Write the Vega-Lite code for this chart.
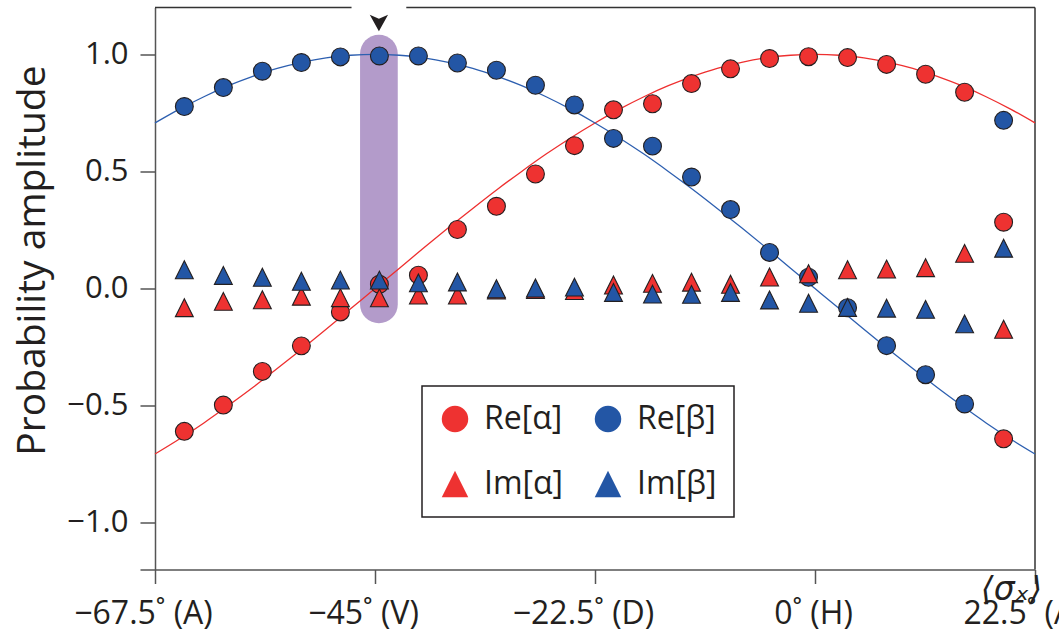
{
  "$schema": "https://vega.github.io/schema/vega-lite/v6.json",
  "width": 880,
  "height": 562,
  "autosize": {"type": "none"},
  "padding": {"left": 155, "top": 7.5, "right": 24, "bottom": 65.5},
  "background": "white",
  "config": {
    "view": {"stroke": null},
    "font": "Open Sans",
    "legend": {"strokeWidth": 1.5}
  },
  "datasets": {
    "points": [
      {"angle": -64.5, "v": -0.61, "series": "Re[α]"},
      {"angle": -60.51, "v": -0.498, "series": "Re[α]"},
      {"angle": -56.52, "v": -0.354, "series": "Re[α]"},
      {"angle": -52.53, "v": -0.245, "series": "Re[α]"},
      {"angle": -48.54, "v": -0.1, "series": "Re[α]"},
      {"angle": -44.55, "v": 0.018, "series": "Re[α]"},
      {"angle": -40.56, "v": 0.057, "series": "Re[α]"},
      {"angle": -36.57, "v": 0.252, "series": "Re[α]"},
      {"angle": -32.58, "v": 0.351, "series": "Re[α]"},
      {"angle": -28.59, "v": 0.489, "series": "Re[α]"},
      {"angle": -24.6, "v": 0.61, "series": "Re[α]"},
      {"angle": -20.61, "v": 0.763, "series": "Re[α]"},
      {"angle": -16.62, "v": 0.789, "series": "Re[α]"},
      {"angle": -12.63, "v": 0.875, "series": "Re[α]"},
      {"angle": -8.64, "v": 0.938, "series": "Re[α]"},
      {"angle": -4.65, "v": 0.982, "series": "Re[α]"},
      {"angle": -0.66, "v": 0.99, "series": "Re[α]"},
      {"angle": 3.33, "v": 0.986, "series": "Re[α]"},
      {"angle": 7.32, "v": 0.957, "series": "Re[α]"},
      {"angle": 11.31, "v": 0.915, "series": "Re[α]"},
      {"angle": 15.3, "v": 0.838, "series": "Re[α]"},
      {"angle": 19.29, "v": 0.283, "series": "Re[α]"},
      {"angle": 19.29, "v": -0.642, "series": "Re[α]"},
      {"angle": -64.5, "v": 0.777, "series": "Re[β]"},
      {"angle": -60.51, "v": 0.858, "series": "Re[β]"},
      {"angle": -56.52, "v": 0.928, "series": "Re[β]"},
      {"angle": -52.53, "v": 0.965, "series": "Re[β]"},
      {"angle": -48.54, "v": 0.989, "series": "Re[β]"},
      {"angle": -44.55, "v": 0.993, "series": "Re[β]"},
      {"angle": -40.56, "v": 0.993, "series": "Re[β]"},
      {"angle": -36.57, "v": 0.963, "series": "Re[β]"},
      {"angle": -32.58, "v": 0.932, "series": "Re[β]"},
      {"angle": -28.59, "v": 0.868, "series": "Re[β]"},
      {"angle": -24.6, "v": 0.784, "series": "Re[β]"},
      {"angle": -20.61, "v": 0.641, "series": "Re[β]"},
      {"angle": -16.62, "v": 0.608, "series": "Re[β]"},
      {"angle": -12.63, "v": 0.476, "series": "Re[β]"},
      {"angle": -8.64, "v": 0.337, "series": "Re[β]"},
      {"angle": -4.65, "v": 0.154, "series": "Re[β]"},
      {"angle": -0.66, "v": 0.048, "series": "Re[β]"},
      {"angle": 3.33, "v": -0.082, "series": "Re[β]"},
      {"angle": 7.32, "v": -0.244, "series": "Re[β]"},
      {"angle": 11.31, "v": -0.368, "series": "Re[β]"},
      {"angle": 15.3, "v": -0.493, "series": "Re[β]"},
      {"angle": 19.29, "v": 0.718, "series": "Re[β]"},
      {"angle": -64.5, "v": -0.082, "series": "Im[α]"},
      {"angle": -60.51, "v": -0.055, "series": "Im[α]"},
      {"angle": -56.52, "v": -0.048, "series": "Im[α]"},
      {"angle": -52.53, "v": -0.033, "series": "Im[α]"},
      {"angle": -48.54, "v": -0.039, "series": "Im[α]"},
      {"angle": -44.55, "v": -0.04, "series": "Im[α]"},
      {"angle": -40.56, "v": -0.028, "series": "Im[α]"},
      {"angle": -36.57, "v": -0.028, "series": "Im[α]"},
      {"angle": -32.58, "v": -0.006, "series": "Im[α]"},
      {"angle": -28.59, "v": -0.004, "series": "Im[α]"},
      {"angle": -24.6, "v": -0.009, "series": "Im[α]"},
      {"angle": -20.61, "v": 0.015, "series": "Im[α]"},
      {"angle": -16.62, "v": 0.022, "series": "Im[α]"},
      {"angle": -12.63, "v": 0.027, "series": "Im[α]"},
      {"angle": -8.64, "v": 0.018, "series": "Im[α]"},
      {"angle": -4.65, "v": 0.049, "series": "Im[α]"},
      {"angle": -0.66, "v": 0.063, "series": "Im[α]"},
      {"angle": 3.33, "v": 0.08, "series": "Im[α]"},
      {"angle": 7.32, "v": 0.083, "series": "Im[α]"},
      {"angle": 11.31, "v": 0.089, "series": "Im[α]"},
      {"angle": 15.3, "v": 0.15, "series": "Im[α]"},
      {"angle": 19.29, "v": -0.174, "series": "Im[α]"},
      {"angle": -64.5, "v": 0.08, "series": "Im[β]"},
      {"angle": -60.51, "v": 0.056, "series": "Im[β]"},
      {"angle": -56.52, "v": 0.048, "series": "Im[β]"},
      {"angle": -52.53, "v": 0.031, "series": "Im[β]"},
      {"angle": -48.54, "v": 0.036, "series": "Im[β]"},
      {"angle": -44.55, "v": 0.036, "series": "Im[β]"},
      {"angle": -40.56, "v": 0.024, "series": "Im[β]"},
      {"angle": -36.57, "v": 0.028, "series": "Im[β]"},
      {"angle": -32.58, "v": -0.001, "series": "Im[β]"},
      {"angle": -28.59, "v": 0.002, "series": "Im[β]"},
      {"angle": -24.6, "v": 0.006, "series": "Im[β]"},
      {"angle": -20.61, "v": -0.017, "series": "Im[β]"},
      {"angle": -16.62, "v": -0.024, "series": "Im[β]"},
      {"angle": -12.63, "v": -0.025, "series": "Im[β]"},
      {"angle": -8.64, "v": -0.017, "series": "Im[β]"},
      {"angle": -4.65, "v": -0.049, "series": "Im[β]"},
      {"angle": -0.66, "v": -0.063, "series": "Im[β]"},
      {"angle": 3.33, "v": -0.081, "series": "Im[β]"},
      {"angle": 7.32, "v": -0.084, "series": "Im[β]"},
      {"angle": 11.31, "v": -0.089, "series": "Im[β]"},
      {"angle": 15.3, "v": -0.151, "series": "Im[β]"},
      {"angle": 19.29, "v": 0.172, "series": "Im[β]"}
    ],
    "curves": [
      {"angle": -67.5, "v": -0.707, "curve": "alpha"},
      {"angle": -65, "v": -0.643, "curve": "alpha"},
      {"angle": -62.5, "v": -0.574, "curve": "alpha"},
      {"angle": -60, "v": -0.5, "curve": "alpha"},
      {"angle": -57.5, "v": -0.423, "curve": "alpha"},
      {"angle": -55, "v": -0.342, "curve": "alpha"},
      {"angle": -52.5, "v": -0.259, "curve": "alpha"},
      {"angle": -50, "v": -0.174, "curve": "alpha"},
      {"angle": -47.5, "v": -0.087, "curve": "alpha"},
      {"angle": -45, "v": 0, "curve": "alpha"},
      {"angle": -42.5, "v": 0.087, "curve": "alpha"},
      {"angle": -40, "v": 0.174, "curve": "alpha"},
      {"angle": -37.5, "v": 0.259, "curve": "alpha"},
      {"angle": -35, "v": 0.342, "curve": "alpha"},
      {"angle": -32.5, "v": 0.423, "curve": "alpha"},
      {"angle": -30, "v": 0.5, "curve": "alpha"},
      {"angle": -27.5, "v": 0.574, "curve": "alpha"},
      {"angle": -25, "v": 0.643, "curve": "alpha"},
      {"angle": -22.5, "v": 0.707, "curve": "alpha"},
      {"angle": -20, "v": 0.766, "curve": "alpha"},
      {"angle": -17.5, "v": 0.819, "curve": "alpha"},
      {"angle": -15, "v": 0.866, "curve": "alpha"},
      {"angle": -12.5, "v": 0.906, "curve": "alpha"},
      {"angle": -10, "v": 0.94, "curve": "alpha"},
      {"angle": -7.5, "v": 0.966, "curve": "alpha"},
      {"angle": -5, "v": 0.985, "curve": "alpha"},
      {"angle": -2.5, "v": 0.996, "curve": "alpha"},
      {"angle": 0, "v": 1, "curve": "alpha"},
      {"angle": 2.5, "v": 0.996, "curve": "alpha"},
      {"angle": 5, "v": 0.985, "curve": "alpha"},
      {"angle": 7.5, "v": 0.966, "curve": "alpha"},
      {"angle": 10, "v": 0.94, "curve": "alpha"},
      {"angle": 12.5, "v": 0.906, "curve": "alpha"},
      {"angle": 15, "v": 0.866, "curve": "alpha"},
      {"angle": 17.5, "v": 0.819, "curve": "alpha"},
      {"angle": 20, "v": 0.766, "curve": "alpha"},
      {"angle": 22.5, "v": 0.707, "curve": "alpha"},
      {"angle": -67.5, "v": 0.707, "curve": "beta"},
      {"angle": -65, "v": 0.766, "curve": "beta"},
      {"angle": -62.5, "v": 0.819, "curve": "beta"},
      {"angle": -60, "v": 0.866, "curve": "beta"},
      {"angle": -57.5, "v": 0.906, "curve": "beta"},
      {"angle": -55, "v": 0.94, "curve": "beta"},
      {"angle": -52.5, "v": 0.966, "curve": "beta"},
      {"angle": -50, "v": 0.985, "curve": "beta"},
      {"angle": -47.5, "v": 0.996, "curve": "beta"},
      {"angle": -45, "v": 1, "curve": "beta"},
      {"angle": -42.5, "v": 0.996, "curve": "beta"},
      {"angle": -40, "v": 0.985, "curve": "beta"},
      {"angle": -37.5, "v": 0.966, "curve": "beta"},
      {"angle": -35, "v": 0.94, "curve": "beta"},
      {"angle": -32.5, "v": 0.906, "curve": "beta"},
      {"angle": -30, "v": 0.866, "curve": "beta"},
      {"angle": -27.5, "v": 0.819, "curve": "beta"},
      {"angle": -25, "v": 0.766, "curve": "beta"},
      {"angle": -22.5, "v": 0.707, "curve": "beta"},
      {"angle": -20, "v": 0.643, "curve": "beta"},
      {"angle": -17.5, "v": 0.574, "curve": "beta"},
      {"angle": -15, "v": 0.5, "curve": "beta"},
      {"angle": -12.5, "v": 0.423, "curve": "beta"},
      {"angle": -10, "v": 0.342, "curve": "beta"},
      {"angle": -7.5, "v": 0.259, "curve": "beta"},
      {"angle": -5, "v": 0.174, "curve": "beta"},
      {"angle": -2.5, "v": 0.087, "curve": "beta"},
      {"angle": 0, "v": 0, "curve": "beta"},
      {"angle": 2.5, "v": -0.087, "curve": "beta"},
      {"angle": 5, "v": -0.174, "curve": "beta"},
      {"angle": 7.5, "v": -0.259, "curve": "beta"},
      {"angle": 10, "v": -0.342, "curve": "beta"},
      {"angle": 12.5, "v": -0.423, "curve": "beta"},
      {"angle": 15, "v": -0.5, "curve": "beta"},
      {"angle": 17.5, "v": -0.574, "curve": "beta"},
      {"angle": 20, "v": -0.643, "curve": "beta"},
      {"angle": 22.5, "v": -0.707, "curve": "beta"}
    ],
    "highlight": [{"angle": -44.6, "v": -0.068, "v2": 1.003}],
    "frame": [
      {"angle": -67.5, "angle2": -47.4, "v": 1.2, "v2": 1.2},
      {"angle": -41.8, "angle2": 22.5, "v": 1.2, "v2": 1.2},
      {"angle": 22.5, "angle2": 22.5, "v": -1.2, "v2": 1.2}
    ],
    "marker": [{"angle": -44.6, "v": 1.134}]
  },
  "layer": [
    {
      "data": {"name": "highlight"},
      "mark": {"type": "rule", "strokeWidth": 37.7, "strokeCap": "round", "color": "#b39bca"},
      "encoding": {
        "x": {"field": "angle", "type": "quantitative", "scale": {"domain": [-67.5, 22.5], "nice": false, "zero": false},
          "axis": {
            "title": "⟨σₓ⟩",
            "values": [-67.5, -45, -22.5, 0, 22.5],
            "labelExpr": "datum.value == -67.5 ? '−67.5˚ (A)' : datum.value == -45 ? '−45˚ (V)' : datum.value == -22.5 ? '−22.5˚ (D)' : datum.value == 0 ? '0˚ (H)' : '22.5˚ (A)'",
            "labelFlush": false,
            "labelOverlap": false,
            "labelFontSize": 32,
            "labelColor": "#231f20",
            "labelPadding": 15,
            "labelOffset": {"condition": {"test": "datum.value == 0", "value": -2}, "value": -12},
            "tickSize": 14,
            "tickWidth": 1.5,
            "tickColor": "#555555",
            "domainColor": "#555555",
            "domainWidth": 1.5,
            "grid": false,
            "titleFont": "DejaVu Sans",
            "titleFontSize": 33,
            "titleFontStyle": "italic",
            "titleFontWeight": "normal",
            "titleColor": "#231f20",
            "titleX": 856,
            "titleY": 30,
            "titleAlign": "center",
            "titleBaseline": "alphabetic",
            "titleAnchor": null
          }
        },
        "y": {"field": "v", "type": "quantitative", "scale": {"domain": [-1.2, 1.2], "nice": false, "zero": false},
          "axis": {
            "title": "Probability amplitude",
            "values": [-1.2, -1, -0.5, 0, 0.5, 1],
            "labelExpr": "datum.value < -1.1 ? '' : format(datum.value, '.1f')",
            "labelFontSize": 31,
            "labelColor": "#231f20",
            "labelPadding": 12,
            "tickSize": 15,
            "tickWidth": 1.5,
            "tickColor": "#555555",
            "domainColor": "#555555",
            "domainWidth": 1.5,
            "grid": false,
            "titleFontSize": 39,
            "titleFontWeight": "normal",
            "titleColor": "#231f20",
            "titleX": -111,
            "titleY": 252.5,
            "titleAngle": -90,
            "titleAlign": "center",
            "titleBaseline": "alphabetic"
          }
        },
        "y2": {"field": "v2"}
      }
    },
    {
      "mark": {"type": "rule", "strokeDash": [5, 15], "color": "#2356a5", "strokeWidth": 1.4},
      "encoding": {"y": {"datum": 0, "type": "quantitative"}}
    },
    {
      "data": {"name": "frame"},
      "mark": {"type": "rule", "color": "#333333", "strokeWidth": 1.5},
      "encoding": {
        "x": {"field": "angle", "type": "quantitative"},
        "x2": {"field": "angle2"},
        "y": {"field": "v", "type": "quantitative"},
        "y2": {"field": "v2"}
      }
    },
    {
      "data": {"name": "curves"},
      "mark": {"type": "line", "strokeWidth": 1.3, "interpolate": "monotone"},
      "encoding": {
        "x": {"field": "angle", "type": "quantitative"},
        "y": {"field": "v", "type": "quantitative"},
        "stroke": {"field": "curve", "type": "nominal", "scale": {"domain": ["alpha", "beta"], "range": ["#ee2f2f", "#2d5fb0"]}, "legend": null}
      }
    },
    {
      "data": {"name": "points"},
      "mark": {"type": "point", "filled": true, "opacity": 1, "size": 320, "stroke": "#231f20", "strokeWidth": 1.1},
      "encoding": {
        "x": {"field": "angle", "type": "quantitative"},
        "y": {"field": "v", "type": "quantitative"},
        "fill": {"field": "series", "type": "nominal",
          "scale": {"domain": ["Re[α]", "Im[α]", "Re[β]", "Im[β]"], "range": ["#ee3231", "#ee3231", "#2356a5", "#2356a5"]},
          "legend": {"title": null, "orient": "none", "legendX": 267, "legendY": 378.5, "columns": 2, "padding": 17, "rowPadding": 33, "columnPadding": 28, "labelFontSize": 32, "labelColor": "#231f20", "labelOffset": 13, "labelLimit": 0, "symbolSize": 700, "symbolStrokeColor": "#231f20", "symbolStrokeWidth": 1.1, "strokeColor": "#231f20", "fillColor": "white", "symbolOpacity": 1}
        },
        "shape": {"field": "series", "type": "nominal",
          "scale": {"domain": ["Re[α]", "Im[α]", "Re[β]", "Im[β]"], "range": ["circle", "M0,-1L1,1L-1,1Z", "circle", "M0,-1L1,1L-1,1Z"]},
          "legend": {"title": null, "orient": "none", "legendX": 267, "legendY": 378.5, "columns": 2, "padding": 17, "rowPadding": 33, "columnPadding": 28, "labelFontSize": 32, "labelColor": "#231f20", "labelOffset": 13, "labelLimit": 0, "symbolSize": 700, "symbolStrokeColor": "#231f20", "symbolStrokeWidth": 1.1, "strokeColor": "#231f20", "fillColor": "white", "symbolOpacity": 1}
        }
      }
    },
    {
      "data": {"name": "marker"},
      "mark": {"type": "point", "filled": true, "opacity": 1, "size": 335, "shape": "M-1,-0.91L0,-0.47L1,-0.91L0,0.91Z", "fill": "#231f20", "strokeWidth": 0},
      "encoding": {
        "x": {"field": "angle", "type": "quantitative"},
        "y": {"field": "v", "type": "quantitative"}
      }
    }
  ]
}
